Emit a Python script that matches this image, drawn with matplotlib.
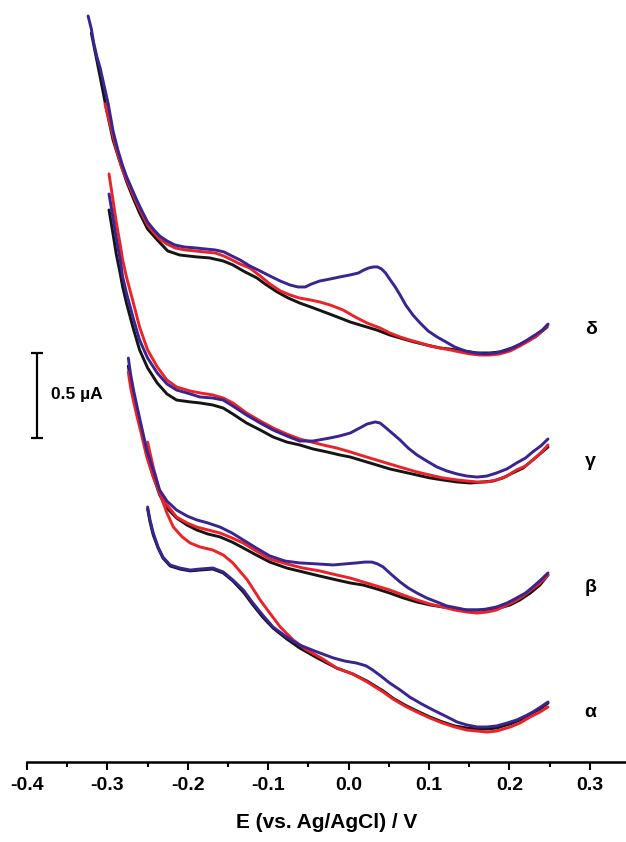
import matplotlib
matplotlib.use("Agg")
import matplotlib.pyplot as plt
from matplotlib.ticker import MultipleLocator

plt.rcParams['font.family'] = ['Liberation Sans', 'DejaVu Sans']
plt.rcParams['font.weight'] = 'bold'

# Potential (V vs. Ag/AgCl) and current (uA) for each film; every panel
# holds three scans: black, red and blue.
groups = ['α', 'β', 'γ', 'δ']
offsets = [0.15, 0.85, 1.60, 2.35]          # vertical stacking, uA
label_y = [0.294, 1.024, 1.765, 2.541]       # y of the Greek labels

# ---- alpha ----
a_black_E = [-0.250, -0.247, -0.243, -0.237, -0.231, -0.222, -0.210, -0.197, -0.185, -0.169,
             -0.156, -0.144, -0.131, -0.119, -0.107, -0.094, -0.077, -0.061, -0.039, -0.015,
             0.005, 0.023, 0.043, 0.055, 0.070, 0.085, 0.101, 0.117, 0.132, 0.147,
             0.160, 0.172, 0.184, 0.201, 0.213, 0.226, 0.238, 0.248]
a_black_I = [1.338, 1.262, 1.185, 1.109, 1.050, 1.003, 0.985, 0.974, 0.979, 0.985,
             0.962, 0.915, 0.850, 0.774, 0.703, 0.638, 0.574, 0.521, 0.462, 0.403,
             0.368, 0.326, 0.268, 0.226, 0.185, 0.150, 0.115, 0.085, 0.062, 0.050,
             0.044, 0.044, 0.050, 0.074, 0.097, 0.132, 0.162, 0.197]
a_red_E = [-0.250, -0.247, -0.243, -0.238, -0.235, -0.226, -0.218, -0.207, -0.197, -0.185,
           -0.169, -0.156, -0.144, -0.126, -0.110, -0.098, -0.085, -0.069, -0.052, -0.032,
           -0.015, 0.005, 0.023, 0.043, 0.055, 0.070, 0.085, 0.101, 0.117, 0.132,
           0.147, 0.160, 0.172, 0.184, 0.201, 0.213, 0.226, 0.238, 0.248]
a_red_I = [1.732, 1.668, 1.585, 1.497, 1.432, 1.315, 1.232, 1.174, 1.138, 1.115,
           1.097, 1.068, 1.021, 0.921, 0.803, 0.726, 0.644, 0.568, 0.509, 0.456,
           0.403, 0.368, 0.321, 0.262, 0.221, 0.179, 0.144, 0.109, 0.079, 0.056,
           0.038, 0.032, 0.026, 0.032, 0.056, 0.079, 0.115, 0.144, 0.174]
a_blue_E = [-0.250, -0.247, -0.243, -0.237, -0.231, -0.222, -0.210, -0.197, -0.185, -0.169,
            -0.156, -0.144, -0.131, -0.119, -0.107, -0.094, -0.077, -0.061, -0.039, -0.019,
            -0.005, 0.010, 0.022, 0.030, 0.040, 0.051, 0.064, 0.076, 0.091, 0.105,
            0.120, 0.135, 0.147, 0.160, 0.172, 0.184, 0.197, 0.209, 0.220, 0.229,
            0.239, 0.248]
a_blue_I = [1.350, 1.274, 1.197, 1.115, 1.056, 1.009, 0.991, 0.979, 0.985, 0.991,
            0.968, 0.921, 0.862, 0.785, 0.715, 0.644, 0.585, 0.538, 0.497, 0.462,
            0.444, 0.432, 0.415, 0.391, 0.356, 0.315, 0.274, 0.232, 0.191, 0.156,
            0.121, 0.085, 0.068, 0.056, 0.056, 0.062, 0.079, 0.097, 0.121, 0.144,
            0.174, 0.203]

# ---- beta ----
b_black_E = [-0.274, -0.271, -0.267, -0.263, -0.258, -0.251, -0.243, -0.235, -0.226, -0.214,
             -0.201, -0.189, -0.175, -0.160, -0.145, -0.131, -0.115, -0.098, -0.077, -0.057,
             -0.036, -0.015, 0.002, 0.018, 0.035, 0.051, 0.068, 0.085, 0.101, 0.117,
             0.135, 0.147, 0.163, 0.176, 0.188, 0.201, 0.213, 0.226, 0.238, 0.248]
b_black_I = [1.479, 1.385, 1.291, 1.203, 1.103, 0.956, 0.832, 0.721, 0.644, 0.585,
             0.544, 0.515, 0.491, 0.474, 0.444, 0.409, 0.368, 0.326, 0.291, 0.268,
             0.244, 0.221, 0.203, 0.191, 0.168, 0.144, 0.115, 0.091, 0.074, 0.062,
             0.050, 0.044, 0.044, 0.050, 0.056, 0.074, 0.103, 0.144, 0.191, 0.250]
b_red_E = [-0.274, -0.271, -0.267, -0.263, -0.258, -0.251, -0.243, -0.235, -0.226, -0.214,
           -0.201, -0.189, -0.175, -0.160, -0.145, -0.131, -0.115, -0.098, -0.077, -0.057,
           -0.036, -0.015, 0.002, 0.018, 0.035, 0.051, 0.068, 0.085, 0.101, 0.117,
           0.132, 0.147, 0.160, 0.172, 0.184, 0.197, 0.207, 0.217, 0.227, 0.238, 0.248]
b_red_I = [1.444, 1.350, 1.262, 1.179, 1.085, 0.944, 0.826, 0.732, 0.662, 0.591,
           0.556, 0.532, 0.515, 0.497, 0.468, 0.438, 0.391, 0.344, 0.315, 0.291,
           0.274, 0.250, 0.232, 0.209, 0.185, 0.162, 0.132, 0.103, 0.079, 0.062,
           0.044, 0.032, 0.026, 0.032, 0.044, 0.074, 0.097, 0.126, 0.162, 0.203, 0.250]
b_blue_E = [-0.274, -0.271, -0.267, -0.263, -0.258, -0.251, -0.243, -0.235, -0.226, -0.214,
            -0.201, -0.189, -0.175, -0.160, -0.145, -0.131, -0.115, -0.098, -0.079, -0.061,
            -0.039, -0.019, -0.005, 0.010, 0.020, 0.029, 0.036, 0.043, 0.051, 0.064,
            0.074, 0.085, 0.097, 0.110, 0.122, 0.135, 0.147, 0.160, 0.172, 0.184,
            0.197, 0.209, 0.220, 0.229, 0.239, 0.248]
b_blue_I = [1.526, 1.426, 1.326, 1.238, 1.132, 0.985, 0.868, 0.750, 0.685, 0.632,
            0.597, 0.574, 0.556, 0.532, 0.497, 0.456, 0.409, 0.362, 0.332, 0.321,
            0.315, 0.309, 0.315, 0.321, 0.326, 0.326, 0.315, 0.297, 0.262, 0.209,
            0.174, 0.144, 0.115, 0.091, 0.068, 0.056, 0.044, 0.044, 0.050, 0.062,
            0.085, 0.115, 0.144, 0.179, 0.221, 0.262]

# ---- gamma ----
g_black_E = [-0.298, -0.294, -0.289, -0.284, -0.281, -0.276, -0.268, -0.260, -0.250, -0.238,
             -0.226, -0.214, -0.197, -0.185, -0.169, -0.156, -0.144, -0.127, -0.110, -0.094,
             -0.077, -0.061, -0.044, -0.027, -0.011, 0.002, 0.018, 0.035, 0.051, 0.068,
             0.085, 0.101, 0.117, 0.135, 0.151, 0.167, 0.180, 0.192, 0.204, 0.217,
             0.232, 0.248]
g_black_I = [1.647, 1.535, 1.388, 1.271, 1.194, 1.094, 0.953, 0.824, 0.718, 0.629,
             0.565, 0.529, 0.518, 0.512, 0.500, 0.482, 0.447, 0.394, 0.353, 0.312,
             0.282, 0.265, 0.241, 0.224, 0.206, 0.194, 0.171, 0.147, 0.124, 0.106,
             0.088, 0.071, 0.059, 0.047, 0.041, 0.047, 0.053, 0.071, 0.100, 0.129,
             0.188, 0.253]
g_red_E = [-0.298, -0.294, -0.289, -0.284, -0.281, -0.276, -0.268, -0.260, -0.250, -0.238,
           -0.226, -0.214, -0.197, -0.185, -0.169, -0.156, -0.144, -0.127, -0.110, -0.094,
           -0.077, -0.061, -0.046, -0.032, -0.015, 0.002, 0.018, 0.035, 0.051, 0.068,
           0.085, 0.101, 0.117, 0.135, 0.147, 0.160, 0.172, 0.184, 0.197, 0.209,
           0.220, 0.229, 0.239, 0.248]
g_red_I = [1.859, 1.735, 1.576, 1.441, 1.353, 1.247, 1.106, 0.959, 0.824, 0.724,
           0.647, 0.606, 0.582, 0.571, 0.559, 0.541, 0.512, 0.453, 0.406, 0.365,
           0.329, 0.300, 0.282, 0.265, 0.247, 0.224, 0.200, 0.176, 0.153, 0.129,
           0.106, 0.088, 0.071, 0.059, 0.053, 0.047, 0.047, 0.059, 0.082, 0.118,
           0.141, 0.176, 0.218, 0.265]
g_blue_E = [-0.298, -0.294, -0.289, -0.284, -0.281, -0.276, -0.268, -0.260, -0.250, -0.238,
            -0.226, -0.214, -0.197, -0.185, -0.169, -0.156, -0.144, -0.127, -0.110, -0.094,
            -0.077, -0.061, -0.044, -0.023, -0.011, 0.002, 0.014, 0.023, 0.033, 0.039,
            0.045, 0.054, 0.064, 0.074, 0.085, 0.097, 0.110, 0.122, 0.135, 0.147,
            0.160, 0.172, 0.184, 0.197, 0.209, 0.220, 0.229, 0.239, 0.248]
g_blue_I = [1.741, 1.629, 1.482, 1.353, 1.253, 1.153, 1.012, 0.882, 0.776, 0.688,
            0.624, 0.588, 0.565, 0.547, 0.541, 0.529, 0.494, 0.441, 0.394, 0.353,
            0.318, 0.288, 0.288, 0.306, 0.318, 0.335, 0.365, 0.388, 0.400, 0.394,
            0.371, 0.335, 0.294, 0.247, 0.206, 0.171, 0.135, 0.112, 0.094, 0.082,
            0.076, 0.082, 0.100, 0.124, 0.159, 0.188, 0.224, 0.259, 0.300]

# ---- delta ----
d_black_E = [-0.320, -0.315, -0.309, -0.301, -0.293, -0.284, -0.276, -0.268, -0.260, -0.250,
             -0.238, -0.225, -0.210, -0.189, -0.173, -0.156, -0.144, -0.131, -0.114, -0.104,
             -0.089, -0.075, -0.061, -0.044, -0.027, -0.011, 0.002, 0.018, 0.035, 0.051,
             0.064, 0.081, 0.097, 0.114, 0.126, 0.142, 0.160, 0.176, 0.188, 0.203,
             0.217, 0.232, 0.247]
d_black_I = [1.938, 1.821, 1.679, 1.485, 1.309, 1.174, 1.062, 0.968, 0.879, 0.785,
             0.721, 0.656, 0.632, 0.621, 0.615, 0.597, 0.574, 0.538, 0.497, 0.462,
             0.415, 0.379, 0.350, 0.321, 0.291, 0.262, 0.238, 0.215, 0.191, 0.162,
             0.144, 0.121, 0.103, 0.085, 0.079, 0.068, 0.056, 0.056, 0.062, 0.085,
             0.115, 0.150, 0.209]
d_red_E = [-0.303, -0.298, -0.293, -0.287, -0.281, -0.276, -0.269, -0.263, -0.257, -0.250,
           -0.242, -0.235, -0.226, -0.216, -0.204, -0.191, -0.179, -0.166, -0.155, -0.145,
           -0.135, -0.123, -0.110, -0.098, -0.085, -0.073, -0.061, -0.048, -0.036, -0.023,
           -0.007, 0.008, 0.023, 0.039, 0.051, 0.064, 0.076, 0.089, 0.101, 0.114,
           0.126, 0.138, 0.151, 0.163, 0.176, 0.188, 0.201, 0.213, 0.226, 0.238, 0.248]
d_red_I = [1.521, 1.426, 1.332, 1.221, 1.132, 1.074, 0.997, 0.932, 0.874, 0.809,
           0.762, 0.726, 0.697, 0.674, 0.662, 0.656, 0.650, 0.644, 0.626, 0.603,
           0.579, 0.556, 0.509, 0.462, 0.421, 0.397, 0.379, 0.368, 0.356, 0.338,
           0.309, 0.268, 0.232, 0.203, 0.174, 0.150, 0.132, 0.115, 0.097, 0.085,
           0.074, 0.062, 0.050, 0.044, 0.044, 0.050, 0.068, 0.097, 0.132, 0.174, 0.221]
d_blue_E = [-0.324, -0.320, -0.317, -0.313, -0.309, -0.304, -0.299, -0.293, -0.287, -0.281,
            -0.276, -0.269, -0.263, -0.257, -0.250, -0.242, -0.235, -0.226, -0.216, -0.204,
            -0.191, -0.179, -0.166, -0.155, -0.145, -0.135, -0.123, -0.110, -0.098, -0.085,
            -0.073, -0.063, -0.054, -0.046, -0.036, -0.023, -0.011, 0.002, 0.012, 0.019,
            0.025, 0.031, 0.036, 0.041, 0.046, 0.051, 0.058, 0.064, 0.071, 0.080,
            0.089, 0.099, 0.110, 0.121, 0.132, 0.145, 0.157, 0.170, 0.182, 0.195,
            0.207, 0.220, 0.232, 0.241, 0.248]
d_blue_I = [2.038, 1.962, 1.879, 1.797, 1.732, 1.626, 1.521, 1.362, 1.250, 1.156,
            1.091, 1.015, 0.950, 0.891, 0.826, 0.779, 0.744, 0.715, 0.691, 0.679,
            0.674, 0.668, 0.662, 0.650, 0.626, 0.603, 0.568, 0.538, 0.509, 0.479,
            0.456, 0.444, 0.444, 0.462, 0.479, 0.491, 0.503, 0.515, 0.526, 0.544,
            0.556, 0.562, 0.562, 0.550, 0.526, 0.491, 0.444, 0.397, 0.338, 0.279,
            0.232, 0.185, 0.150, 0.121, 0.091, 0.068, 0.056, 0.050, 0.056, 0.068,
            0.091, 0.126, 0.162, 0.191, 0.226]

scans = [
    [(a_black_E, a_black_I), (a_red_E, a_red_I), (a_blue_E, a_blue_I)],
    [(b_black_E, b_black_I), (b_red_E, b_red_I), (b_blue_E, b_blue_I)],
    [(g_black_E, g_black_I), (g_red_E, g_red_I), (g_blue_E, g_blue_I)],
    [(d_black_E, d_black_I), (d_red_E, d_red_I), (d_blue_E, d_blue_I)],
]
colors = ['#151515', '#ec2227', '#3a2392']

fig = plt.figure(figsize=(6.26, 8.42), dpi=100)
ax = fig.add_axes([27 / 626, 80 / 842, 599 / 626, 762 / 842])

for off, curves in zip(offsets, scans):
    for z, ((E, I), c) in enumerate(zip(curves, colors)):
        ax.plot(E, [v + off for v in I], color=c, lw=2.1, zorder=2 + z,
                solid_capstyle='round', solid_joinstyle='round')

for name, y in zip(groups, label_y):
    ax.text(0.301, y, name, fontsize=14, fontweight='bold', ha='center', va='center')

# scale bar: 0.5 uA
bar_len = 0.5
ax.errorbar([-0.388], [1.906 + bar_len / 2], yerr=bar_len / 2, color='k', lw=1.6,
            capsize=4, capthick=1.6, clip_on=False)
ax.text(-0.370, 2.159, '0.5 µA', fontsize=12.5, fontweight='bold', ha='left', va='center')

ax.set_xlim(-0.4, 0.345)
ax.set_ylim(0, 4.482)
for s in ['left', 'right', 'top']:
    ax.spines[s].set_visible(False)
ax.spines['bottom'].set_linewidth(1.8)
ax.set_yticks([])
ax.xaxis.set_minor_locator(MultipleLocator(0.05))
ax.tick_params(axis='x', which='major', length=5.5, width=1.5, labelsize=14, pad=5)
ax.tick_params(axis='x', which='minor', length=3.5, width=1.5)
ax.set_xticks([-0.4, -0.3, -0.2, -0.1, 0.0, 0.1, 0.2, 0.3])
ax.set_xticklabels(['-0.4', '-0.3', '-0.2', '-0.1', '0.0', '0.1', '0.2', '0.3'])
for t in ax.get_xticklabels():
    t.set_fontweight('bold')
ax.set_xlabel('E (vs. Ag/AgCl) / V', fontsize=15, fontweight='bold', labelpad=14)

fig.savefig('out.png', dpi=100)
